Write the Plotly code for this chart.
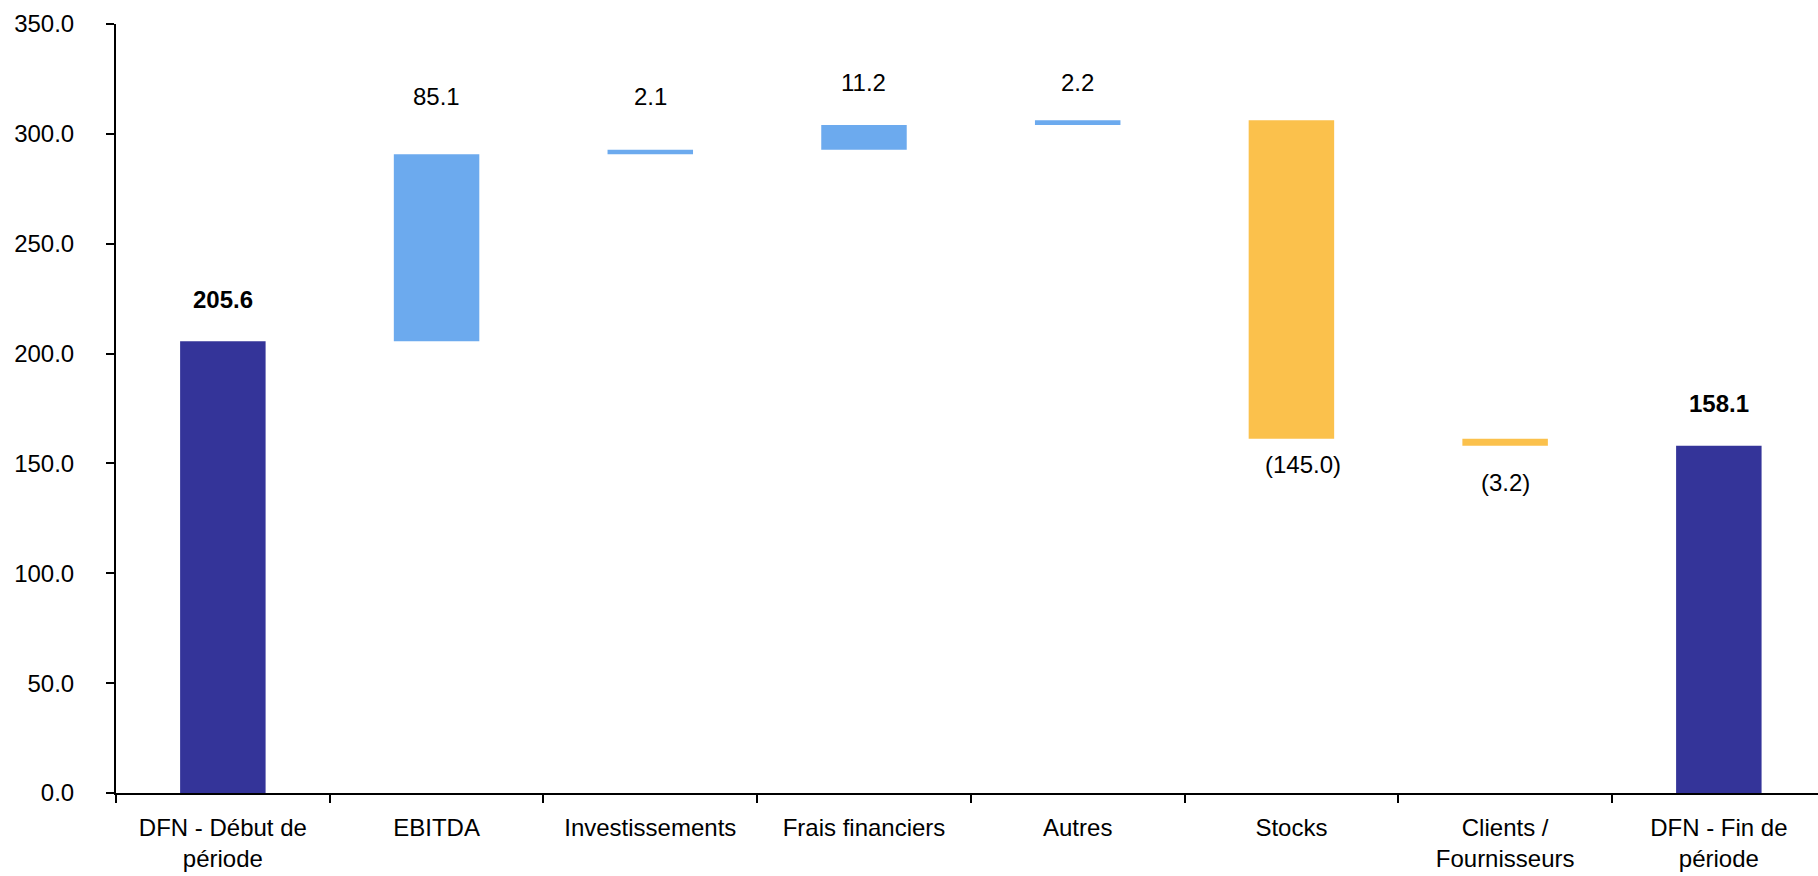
import plotly.graph_objects as go

# Net financial debt bridge: opening balance, movements, closing balance
categories = ["DFN - Début de période", "EBITDA", "Investissements", "Frais financiers",
              "Autres", "Stocks", "Clients / Fournisseurs", "DFN - Fin de période"]
tick_labels = ["DFN - Début de<br>période", "EBITDA", "Investissements", "Frais financiers",
               "Autres", "Stocks", "Clients /<br>Fournisseurs", "DFN - Fin de<br>période"]
amounts = [205.6, 85.1, 2.1, 11.2, 2.2, -145.0, -3.2, 158.1]
kinds = ["total", "delta", "delta", "delta", "delta", "delta", "delta", "total"]
y_ticks = [0, 50, 100, 150, 200, 250, 300, 350]

# styling
NAVY = "#343499"
BLUE = "#6CAAEE"
AMBER = "#FBC14C"
FONT = "Liberation Sans, Arial, sans-serif"
# vertical offset of each value label from the end of its bar (px)
label_shift = [42, 58, 53, 43, 38, -26, -37, 42]
label_xshift = [0, 0, 0, 0, 0, 12, 0, 0]

# running totals -> bar bases and heights
bases, heights, colors, ends = [], [], [], []
level = 0.0
for amt, kind in zip(amounts, kinds):
    if kind == "total":
        bases.append(0.0)
        heights.append(amt)
        colors.append(NAVY)
        level = amt
        ends.append(amt)
    else:
        bases.append(level)
        heights.append(amt)
        colors.append(BLUE if amt >= 0 else AMBER)
        level += amt
        ends.append(level)


def fmt(v):
    return f"({abs(v):.1f})" if v < 0 else f"{v:.1f}"


fig = go.Figure(go.Bar(
    x=categories, y=heights, base=bases, width=0.4,
    marker=dict(color=colors, line=dict(width=0)),
    hoverinfo="skip",
))

annotations = []
for i, (cat, amt, kind) in enumerate(zip(categories, amounts, kinds)):
    txt = fmt(amt)
    if kind == "total":
        txt = f"<b>{txt}</b>"
    annotations.append(dict(
        x=cat, y=ends[i], xref="x", yref="y", text=txt, showarrow=False,
        yshift=label_shift[i], xshift=label_xshift[i],
        font=dict(family=FONT, size=24, color="black"),
        xanchor="center", yanchor="middle",
    ))

fig.update_layout(
    width=1818, height=876,
    margin=dict(l=116, r=0, t=24, b=83),
    paper_bgcolor="white", plot_bgcolor="white",
    showlegend=False,
    font=dict(family=FONT, size=24, color="black"),
    annotations=annotations,
    bargap=0.6,
)
fig.update_xaxes(
    type="category", categoryorder="array", categoryarray=categories,
    tickvals=categories, ticktext=tick_labels,
    range=[-0.5, 7.464],
    showline=True, linecolor="black", linewidth=2,
    ticks="outside", tickson="boundaries", ticklen=8, tickwidth=2, tickcolor="black",
    ticklabelstandoff=12,
    showgrid=False, zeroline=False,
    tickfont=dict(family=FONT, size=24, color="black"),
)
fig.update_yaxes(
    range=[0, 350], tickvals=y_ticks, ticktext=[f"{v:.1f}" for v in y_ticks],
    showline=True, linecolor="black", linewidth=2,
    ticks="outside", ticklen=8, tickwidth=2, tickcolor="black",
    ticklabelstandoff=27,
    showgrid=False, zeroline=False,
    tickfont=dict(family=FONT, size=24, color="black"),
)

fig.write_html("out.html")
